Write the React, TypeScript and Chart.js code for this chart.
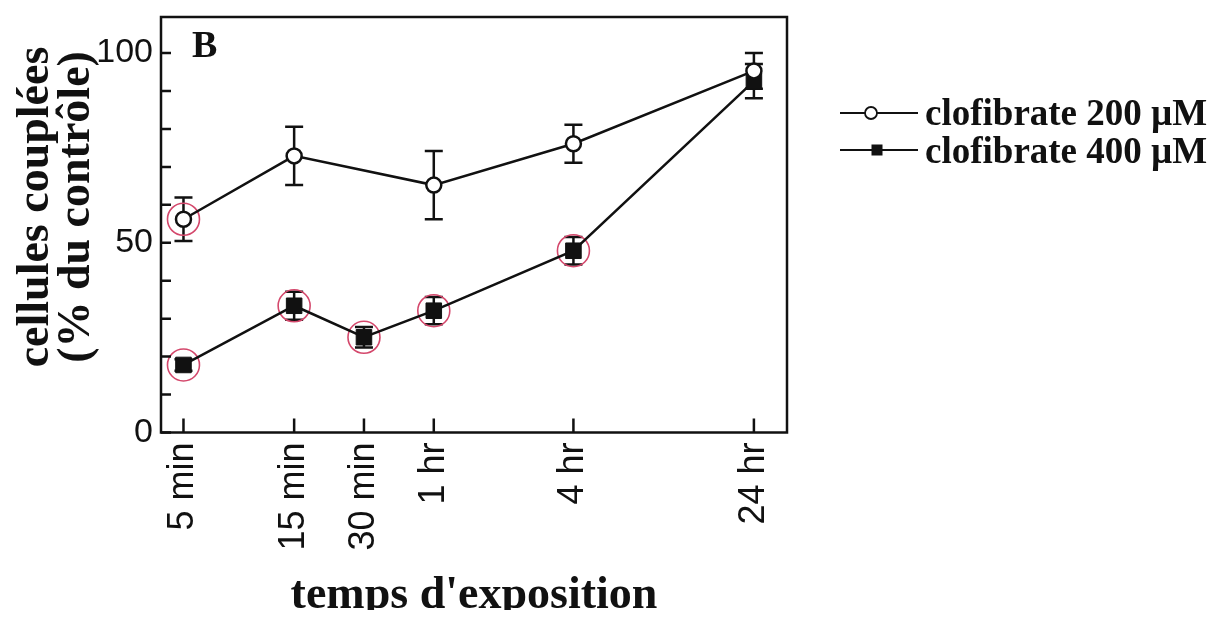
import React, { useEffect, useRef } from "react";
import { Chart, registerables } from "chart.js";

Chart.register(...registerables);

// ---- data ----
const timeLabels = ["5 min", "15 min", "30 min", "1 hr", "4 hr", "24 hr"];
const timeMinutes = [5, 15, 30, 60, 240, 1440];

const clof200Label = "clofibrate 200 \u00B5M";
const clof200Minutes = [5, 15, 60, 240, 1440];
const clof200Values = [56.2, 72.9, 65.2, 76.1, 95.3];
const clof200Errors = [5.7, 7.7, 9.0, 5.0, 4.7];

const clof400Label = "clofibrate 400 \u00B5M";
const clof400Minutes = [5, 15, 30, 60, 240, 1440];
const clof400Values = [17.8, 33.4, 25.1, 32.1, 47.9, 92.6];
const clof400Errors = [1.5, 3.7, 2.7, 3.6, 3.6, 4.5];

// hand-drawn red circles (indices into the series)
const circled200 = [0];
const circled400 = [0, 1, 2, 3, 4];

const yTickValues = [0, 10, 20, 30, 40, 50, 60, 70, 80, 90, 100];
const yTickLabels = ["0", "", "", "", "", "50", "", "", "", "", "100"];

const panelLabel = "B";
const xTitle = "temps d'exposition";
const yTitleLines = ["cellules couplées", "(% du contrôle)"];

// ---- style ----
const INK = "#111";
const SERIF = "'Liberation Serif', 'Times New Roman', serif";
const SANS = "'Liberation Sans', Arial, sans-serif";
const W = 1204;
const H = 602;
const AREA_TOP = 9;
const AREA_LEFT = 153;
const AREA_RIGHT = 779;
const AREA_BOTTOM = 424.5;

const decorPlugin = {
  id: "decor",
  beforeDatasetsDraw(chart: any) {
    const ctx = chart.ctx;
    const xs = chart.scales.x;
    const ys = chart.scales.y;
    ctx.save();
    ctx.strokeStyle = INK;
    ctx.lineWidth = 2.5;
    chart.data.datasets.forEach((ds: any) => {
      if (!ds.errors) return;
      ds.data.forEach((p: any, j: number) => {
        const e = ds.errors[j];
        const x = xs.getPixelForValue(p.x);
        const yt = ys.getPixelForValue(p.y + e);
        const yb = ys.getPixelForValue(p.y - e);
        ctx.beginPath();
        ctx.moveTo(x, yt);
        ctx.lineTo(x, yb);
        ctx.moveTo(x - 9, yt);
        ctx.lineTo(x + 9, yt);
        ctx.moveTo(x - 9, yb);
        ctx.lineTo(x + 9, yb);
        ctx.stroke();
      });
    });
    ctx.restore();
  },
  afterDraw(chart: any) {
    const ctx = chart.ctx;
    const { left, right, top, bottom } = chart.chartArea;
    const xs = chart.scales.x;
    const ys = chart.scales.y;
    ctx.save();
    // frame
    ctx.strokeStyle = INK;
    ctx.lineWidth = 2.5;
    ctx.strokeRect(left, top, right - left, bottom - top);
    // inward ticks
    ctx.beginPath();
    yTickValues.forEach((v) => {
      const y = ys.getPixelForValue(v);
      ctx.moveTo(left, y);
      ctx.lineTo(left + 10, y);
    });
    timeMinutes.forEach((v) => {
      const x = xs.getPixelForValue(v);
      ctx.moveTo(x, bottom);
      ctx.lineTo(x, bottom - 14);
    });
    ctx.stroke();

    ctx.fillStyle = INK;
    // panel label
    ctx.font = `bold 38px ${SERIF}`;
    ctx.textAlign = "left";
    ctx.textBaseline = "alphabetic";
    ctx.fillText(panelLabel, 184, 49);

    // x title
    ctx.font = `bold 46px ${SERIF}`;
    ctx.textAlign = "center";
    ctx.fillText(xTitle, (left + right) / 2, 600);

    // y title (two rotated lines)
    const baselines = [40, 81];
    yTitleLines.forEach((t, i) => {
      ctx.save();
      ctx.translate(baselines[i], 199);
      ctx.rotate(-Math.PI / 2);
      ctx.textAlign = "center";
      ctx.textBaseline = "alphabetic";
      ctx.fillText(t, 0, 0);
      ctx.restore();
    });

    // legend
    const rows = [
      { label: chart.data.datasets[0].label, style: "circle", lineY: 105, base: 117, mx: 863 },
      { label: chart.data.datasets[1].label, style: "rect", lineY: 142, base: 155, mx: 869 },
    ];
    rows.forEach((r) => {
      ctx.strokeStyle = INK;
      ctx.lineWidth = 1.8;
      ctx.beginPath();
      ctx.moveTo(832, r.lineY);
      ctx.lineTo(910, r.lineY);
      ctx.stroke();
      if (r.style === "circle") {
        ctx.beginPath();
        ctx.arc(r.mx, r.lineY, 6, 0, Math.PI * 2);
        ctx.fillStyle = "#fff";
        ctx.fill();
        ctx.lineWidth = 1.8;
        ctx.stroke();
      } else {
        ctx.fillStyle = INK;
        ctx.fillRect(r.mx - 5.5, r.lineY - 5.5, 11, 11);
      }
      ctx.fillStyle = INK;
      ctx.font = `bold 37px ${SERIF}`;
      ctx.textAlign = "left";
      ctx.textBaseline = "alphabetic";
      ctx.fillText(r.label, 917, r.base);
    });
    ctx.restore();
  },
};

export default function App() {
  const ref = useRef<HTMLCanvasElement | null>(null);

  useEffect(() => {
    if (!ref.current) return;
    const s200 = clof200Minutes.map((m, i) => ({ x: m, y: clof200Values[i] }));
    const s400 = clof400Minutes.map((m, i) => ({ x: m, y: clof400Values[i] }));
    const circled = [
      ...circled200.map((i) => s200[i]),
      ...circled400.map((i) => s400[i]),
    ];
    const chart = new Chart(ref.current, {
      type: "line",
      data: {
        datasets: [
          {
            label: clof200Label,
            data: s200,
            errors: clof200Errors,
            borderColor: INK,
            borderWidth: 2.5,
            pointStyle: "circle",
            pointRadius: 7.5,
            pointBackgroundColor: "#fff",
            pointBorderColor: INK,
            pointBorderWidth: 2.5,
            tension: 0,
          } as any,
          {
            label: clof400Label,
            data: s400,
            errors: clof400Errors,
            borderColor: INK,
            borderWidth: 2.5,
            pointStyle: "rect",
            pointRadius: 11,
            pointBackgroundColor: INK,
            pointBorderColor: INK,
            pointBorderWidth: 1,
            tension: 0,
          } as any,
          {
            label: "annotations",
            data: circled,
            showLine: false,
            pointStyle: "circle",
            pointRadius: 16,
            pointBackgroundColor: "rgba(0,0,0,0)",
            pointBorderColor: "#d4486c",
            pointBorderWidth: 1.6,
          } as any,
        ],
      },
      options: {
        responsive: false,
        animation: false,
        events: [],
        layout: {
          autoPadding: false,
          padding: { top: AREA_TOP, right: W - AREA_RIGHT, left: 0, bottom: 0 },
        },
        plugins: { legend: { display: false }, tooltip: { enabled: false } },
        scales: {
          x: {
            type: "logarithmic",
            min: 4,
            max: 2000,
            afterBuildTicks: (s: any) => {
              s.ticks = timeMinutes.map((v) => ({ value: v }));
            },
            afterFit: (s: any) => {
              s.height = H - AREA_BOTTOM;
              s.paddingLeft = 0;
              s.paddingRight = 0;
            },
            grid: { display: false, drawTicks: false },
            border: { display: false },
            ticks: {
              autoSkip: false,
              maxRotation: 90,
              minRotation: 90,
              padding: 10,
              color: INK,
              font: { family: SANS, size: 36 },
              callback: (v: any) => {
                const i = timeMinutes.indexOf(Number(v));
                return i >= 0 ? timeLabels[i] : "";
              },
            },
          },
          y: {
            type: "linear",
            min: 0,
            max: 109.5,
            afterBuildTicks: (s: any) => {
              s.ticks = yTickValues.map((v) => ({ value: v }));
            },
            afterFit: (s: any) => {
              s.width = AREA_LEFT;
              s.paddingTop = 0;
              s.paddingBottom = 0;
            },
            grid: { display: false, drawTicks: false },
            border: { display: false },
            ticks: {
              autoSkip: false,
              padding: 8,
              color: INK,
              font: { family: SANS, size: 34 },
              callback: (v: any) => {
                const i = yTickValues.indexOf(Number(v));
                return i >= 0 ? yTickLabels[i] : "";
              },
            },
          },
        },
      } as any,
      plugins: [decorPlugin],
    });
    return () => chart.destroy();
  }, []);

  return (
    <div style={{ width: W, height: H }}>
      <canvas ref={ref} width={W} height={H} style={{ display: "block" }} />
    </div>
  );
}
